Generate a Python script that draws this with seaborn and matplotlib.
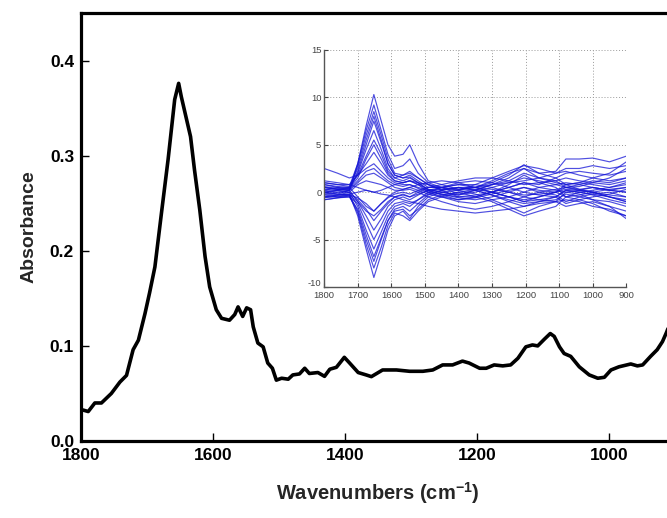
import numpy as np
import pandas as pd
import matplotlib
matplotlib.use("Agg")
import matplotlib.pyplot as plt
import matplotlib.transforms as mtransforms
import seaborn as sns

# ---------------- main spectrum ----------------
main_wn = [1797, 1789, 1779, 1769, 1754, 1741, 1731, 1721, 1713, 1703, 1696, 1688,
           1678, 1668, 1658, 1652, 1648, 1640, 1634, 1628, 1620, 1612, 1605, 1595,
           1587, 1575, 1567, 1562, 1555, 1549, 1543, 1539, 1532, 1524, 1517, 1510,
           1504, 1496, 1486, 1479, 1469, 1461, 1454, 1441, 1431, 1423, 1413, 1401,
           1393, 1380, 1368, 1360, 1343, 1322, 1302, 1282, 1267, 1252, 1237, 1222,
           1212, 1196, 1186, 1174, 1161, 1149, 1138, 1126, 1116, 1108, 1098, 1089,
           1083, 1075, 1068, 1058, 1045, 1030, 1017, 1007, 997, 985, 967, 957, 949,
           937, 927, 919, 913, 905]
main_abs = [0.0326, 0.031, 0.040, 0.040, 0.050, 0.062, 0.069, 0.096, 0.106, 0.134, 0.156, 0.183,
            0.240, 0.296, 0.359, 0.376, 0.362, 0.338, 0.320, 0.285, 0.243, 0.194, 0.162, 0.138,
            0.129, 0.127, 0.133, 0.141, 0.131, 0.140, 0.138, 0.120, 0.103, 0.099, 0.082, 0.0765,
            0.064, 0.066, 0.065, 0.0695, 0.0705, 0.0765, 0.071, 0.072, 0.068, 0.0755, 0.0775, 0.088,
            0.082, 0.072, 0.0695, 0.0677, 0.0747, 0.0747, 0.0733, 0.0733, 0.0747, 0.080, 0.080, 0.084,
            0.082, 0.0765, 0.0765, 0.080, 0.079, 0.080, 0.087, 0.099, 0.101, 0.100, 0.107, 0.113,
            0.110, 0.099, 0.092, 0.089, 0.078, 0.0695, 0.066, 0.067, 0.0747, 0.078, 0.081, 0.079, 0.080,
            0.089, 0.096, 0.1045, 0.114, 0.128]

main_xticks = [1800, 1600, 1400, 1200, 1000]
main_yticks = [0.0, 0.1, 0.2, 0.3, 0.4]

# ---------------- inset spectra ----------------
inset_wn = [1800, 1760, 1725, 1700, 1675, 1652, 1630, 1610, 1590, 1565, 1545, 1520, 1490,
            1450, 1400, 1350, 1300, 1250, 1205, 1160, 1110, 1080, 1040, 1000, 950, 900]
c1 = [0.5, 0.3, 0.2, 3.0, 7.0, 10.3, 7.5, 5.0, 3.8, 4.0, 5.0, 3.0, 1.2, 0.8, 0.3, 0.5, 1.0, 1.8, 2.9, 2.0, 1.5, 0.8, 0.3, 0.5, 0.2, 0.0]
c2 = [1.0, 0.8, 0.6, 3.0, 6.5, 9.2, 6.5, 4.0, 2.5, 2.8, 3.5, 2.0, 1.0, 0.5, -0.2, 0.2, 0.8, 1.5, 2.5, 1.5, 1.2, 0.5, 0.6, 1.0, 1.5, 2.5]
c3 = [0.2, 0.5, 0.3, 2.8, 6.0, 8.5, 6.0, 3.5, 2.0, 1.8, 2.2, 1.5, 0.8, 0.2, -0.5, -0.5, 0.0, 0.8, 1.8, 1.0, 0.5, -0.5, 0.0, 0.2, 0.5, 1.0]
c4 = [0.8, 0.5, 0.5, 2.5, 5.5, 8.0, 5.5, 3.0, 1.8, 1.5, 1.8, 1.2, 0.5, 0.5, 0.2, 0.5, 1.2, 2.0, 2.5, 2.0, 2.2, 3.5, 3.5, 3.6, 3.2, 3.8]
c5 = [0.0, 0.2, 0.4, 2.0, 4.5, 6.5, 4.5, 2.5, 1.5, 1.2, 1.5, 1.0, 0.2, -0.3, -0.8, -0.6, -0.2, 0.2, 0.5, 0.0, -0.3, -1.0, -0.5, -0.2, 0.0, -0.5]
c6 = [0.5, 0.3, 0.5, 1.8, 3.8, 5.5, 4.0, 2.2, 1.5, 1.8, 2.0, 1.5, 0.8, 0.3, 0.2, 0.8, 1.5, 2.2, 2.8, 2.5, 2.0, 2.5, 2.5, 2.8, 2.5, 2.8]
c7 = [1.0, 0.8, 0.8, 1.8, 3.0, 4.2, 3.0, 1.8, 1.2, 1.0, 1.2, 0.8, 0.3, 0.0, -0.3, 0.0, 0.5, 1.0, 1.5, 1.2, 0.8, 0.5, 0.8, 1.2, 1.0, 1.5]
c8 = [2.5, 2.0, 1.5, 1.8, 2.5, 3.0, 2.2, 1.5, 1.0, 0.8, 0.8, 0.5, 0.2, -0.2, -0.5, -0.3, 0.0, 0.5, 1.0, 0.8, 1.5, 2.0, 2.2, 2.0, 1.8, 2.2]
c9 = [0.0, -0.2, 0.2, 1.0, 1.8, 2.0, 1.5, 1.0, 0.5, 0.3, 0.5, 0.2, -0.2, -0.5, -1.0, -1.2, -0.8, -0.5, 0.0, -0.3, -0.5, -1.2, -0.8, -0.5, -0.2, 0.3]
c10 = [-0.5, -0.3, 0.0, 0.8, 1.2, 1.0, 0.8, 0.5, 0.2, 0.2, 0.3, 0.0, -0.5, -1.0, -1.5, -1.8, -1.5, -1.0, -0.5, -0.8, -1.0, -1.5, -1.2, -1.0, -1.5, -2.0]
n1 = [-0.5, -0.3, -0.2, -2.5, -6.0, -9.0, -6.5, -4.0, -2.5, -2.0, -2.8, -1.5, -0.5, 0.0, 0.2, -0.2, -0.8, -1.5, -2.2, -1.5, -1.0, 0.0, -0.2, -0.8, -1.5, -2.8]
n2 = [-0.8, -0.6, -0.4, -2.2, -5.5, -8.0, -5.8, -3.5, -2.2, -2.5, -3.0, -2.0, -1.0, -0.5, 0.0, -0.5, -1.0, -1.8, -2.5, -2.0, -1.5, -0.5, -0.8, -1.2, -2.0, -2.5]
n3 = [-0.3, -0.5, -0.3, -2.0, -5.0, -7.3, -5.0, -3.0, -1.8, -1.5, -2.0, -1.2, -0.3, 0.2, 0.5, 0.2, -0.3, -1.0, -1.5, -1.0, -0.5, 0.2, 0.0, -0.3, -0.8, -1.2]
n4 = [0.0, 0.2, 0.0, -1.5, -4.0, -6.0, -4.2, -2.5, -1.5, -1.2, -1.5, -0.8, 0.0, 0.5, 0.8, 0.5, 0.0, -0.5, -1.0, -0.5, 0.0, 0.5, 0.2, 0.0, -0.5, -0.8]
n5 = [-0.5, -0.5, -0.5, -1.2, -3.2, -5.0, -3.5, -2.0, -1.2, -1.0, -1.2, -0.8, -0.2, 0.2, 0.5, 0.2, -0.3, -0.8, -1.2, -1.0, -0.8, -0.2, -0.5, -0.8, -1.0, -1.5]
n6 = [0.5, 0.3, 0.2, -1.0, -2.5, -4.0, -2.8, -1.5, -0.8, -0.5, -0.8, -0.3, 0.2, 0.5, 1.0, 1.2, 1.0, 0.5, 0.0, 0.5, 0.8, 1.0, 0.8, 0.5, 0.2, 0.5]
n7 = [0.2, 0.0, 0.0, -0.8, -1.8, -3.0, -2.0, -1.2, -0.5, -0.2, -0.5, 0.0, 0.5, 0.8, 1.2, 1.5, 1.5, 1.2, 0.8, 1.0, 1.2, 1.5, 1.2, 1.0, 0.8, 1.2]
n8 = [-0.6, -0.4, -0.3, -0.6, -1.2, -2.0, -1.2, -0.6, -0.2, 0.0, -0.2, 0.2, 0.5, 0.5, 0.8, 0.8, 0.5, 0.0, -0.5, 0.0, 0.3, 0.5, 0.3, 0.0, -0.5, -1.0]
m1 = [0.3, 0.2, 0.4, 1.5, 3.5, 5.0, 3.5, 2.0, 1.2, 1.0, 1.2, 0.8, 0.0, -0.5, -0.8, -0.5, 0.0, 0.5, 1.0, 0.5, 0.2, 0.0, 0.2, 0.5, 0.2, 0.0]
m2 = [-0.2, 0.0, 0.2, 2.2, 5.0, 7.5, 5.2, 3.0, 1.8, 1.5, 1.6, 1.0, 0.3, 0.0, -0.3, 0.2, 0.8, 1.2, 2.0, 1.5, 1.0, 0.8, 1.0, 1.5, 1.2, 1.5]
m3 = [0.6, 0.4, 0.3, 1.2, 2.2, 2.5, 1.8, 1.2, 0.8, 0.6, 0.8, 0.4, 0.0, -0.2, -0.6, -0.8, -0.5, 0.0, 0.5, 0.2, 0.0, -0.5, -0.3, 0.0, 0.3, 0.5]
m4 = [-0.8, -0.6, -0.5, -1.8, -4.5, -6.8, -4.8, -3.0, -2.0, -1.8, -2.5, -1.8, -0.8, -0.3, 0.0, 0.3, 0.0, -0.5, -1.0, -0.8, -0.5, 0.2, 0.0, -0.2, -0.5, -1.0]
m5 = [0.0, -0.2, -0.3, -1.0, -2.0, -2.5, -1.8, -1.0, -0.5, -0.3, -0.5, -0.2, 0.2, 0.3, 0.5, 0.5, 0.3, 0.0, -0.3, -0.2, 0.0, 0.3, 0.2, 0.0, -0.3, -0.5]
m6 = [1.2, 1.0, 0.8, 0.5, 0.2, 0.0, 0.2, 0.5, 0.8, 1.0, 1.2, 1.0, 0.8, 0.5, 0.3, 0.5, 0.8, 1.0, 1.2, 1.5, 2.0, 2.2, 1.8, 1.5, 2.0, 3.2]
m7 = [-0.2, -0.3, -0.2, 0.0, 0.2, 0.0, -0.2, -0.3, -0.5, -0.8, -1.0, -1.2, -1.5, -1.8, -2.0, -2.2, -2.0, -1.8, -1.5, -1.2, -1.0, -0.8, -1.0, -1.5, -1.8, -2.5]
m8 = [0.8, 0.6, 0.5, -0.5, -1.5, -2.0, -1.2, -0.5, 0.0, 0.3, 0.5, 0.8, 1.0, 1.2, 1.0, 0.5, 0.0, -0.5, -0.8, -0.5, 0.0, 0.8, 1.0, 0.8, 0.5, 0.8]
inset_series = [c1, c2, c3, c4, c5, c6, c7, c8, c9, c10, n1, n2, n3, n4, n5, n6, n7, n8,
                m1, m2, m3, m4, m5, m6, m7, m8]

inset_xticks = [1800, 1700, 1600, 1500, 1400, 1300, 1200, 1100, 1000, 900]
inset_yticks = [-10, -5, 0, 5, 10, 15]

# ---------------- styling ----------------
sns.set_style("white")
plt.rcParams['font.family'] = ['Liberation Sans', 'DejaVu Sans']
plt.rcParams['mathtext.fontset'] = 'custom'
plt.rcParams['mathtext.rm'] = 'Liberation Sans:bold'
plt.rcParams['mathtext.bf'] = 'Liberation Sans:bold'
plt.rcParams['mathtext.default'] = 'bf'

fig = plt.figure(figsize=(6.67, 5.18), dpi=100)
ax = fig.add_axes([0.1214, 0.1486, 0.8906, 0.8264])

main_df = pd.DataFrame({"wn": main_wn, "abs": main_abs})
sns.lineplot(data=main_df, x="wn", y="abs", ax=ax, color="black", lw=2.6,
             sort=False, estimator=None)
ax.set_xlim(1800, 900)
ax.set_ylim(0, 0.45)
ax.set_xticks(main_xticks)
ax.set_xticklabels([str(t) for t in main_xticks])
ax.set_yticks(main_yticks)
ax.set_yticklabels([f"{t:.1f}" for t in main_yticks])
for s in ax.spines.values():
    s.set_linewidth(2.3)
    s.set_color("black")
ax.tick_params(axis="both", direction="in", length=6, width=1.0, colors="black",
               labelsize=12.5, pad=5, bottom=True, left=True)
for lab in ax.get_xticklabels() + ax.get_yticklabels():
    lab.set_fontweight("bold")
ax.set_xlabel("Wavenumbers (cm$^{-1}$)", fontsize=14.5, fontweight="bold", labelpad=12)
ax.set_ylabel("Absorbance", fontsize=14, fontweight="bold", labelpad=9)

# ---------------- inset ----------------
axi = fig.add_axes([0.486, 0.446, 0.453, 0.4575])
rows = []
for i, s in enumerate(inset_series):
    for w, v in zip(inset_wn, s):
        rows.append({"wn": w, "val": v, "id": i})
inset_df = pd.DataFrame(rows)
sns.lineplot(data=inset_df, x="wn", y="val", units="id", estimator=None, ax=axi,
             color="#1414d6", lw=0.85, alpha=0.75, sort=False)
axi.set_xlim(1800, 900)
axi.set_ylim(-10, 15)
axi.set_xticks(inset_xticks)
axi.set_yticks(inset_yticks)
axi.set_xticklabels([str(t) for t in inset_xticks])
axi.set_yticklabels([str(t) for t in inset_yticks])
axi.grid(True, linestyle=(0, (1, 2)), color="#9a9a9a", lw=0.7)
axi.set_facecolor("white")
for side in ["top", "right"]:
    axi.spines[side].set_visible(False)
for side in ["left", "bottom"]:
    axi.spines[side].set_color("#555555")
    axi.spines[side].set_linewidth(1.0)
axi.tick_params(axis="both", direction="in", length=3, width=0.8, colors="#444444",
                labelsize=6.8, bottom=True, left=True)
axi.tick_params(axis="x", pad=3)
axi.tick_params(axis="y", pad=2)
# lift the lowest y label slightly so it clears the first x label
low_lab = axi.get_yticklabels()[0]
low_lab.set_transform(low_lab.get_transform() +
                      mtransforms.ScaledTranslation(0, 3 / 72, fig.dpi_scale_trans))
axi.set_xlabel("")
axi.set_ylabel("")

fig.savefig("out.png", dpi=100)
